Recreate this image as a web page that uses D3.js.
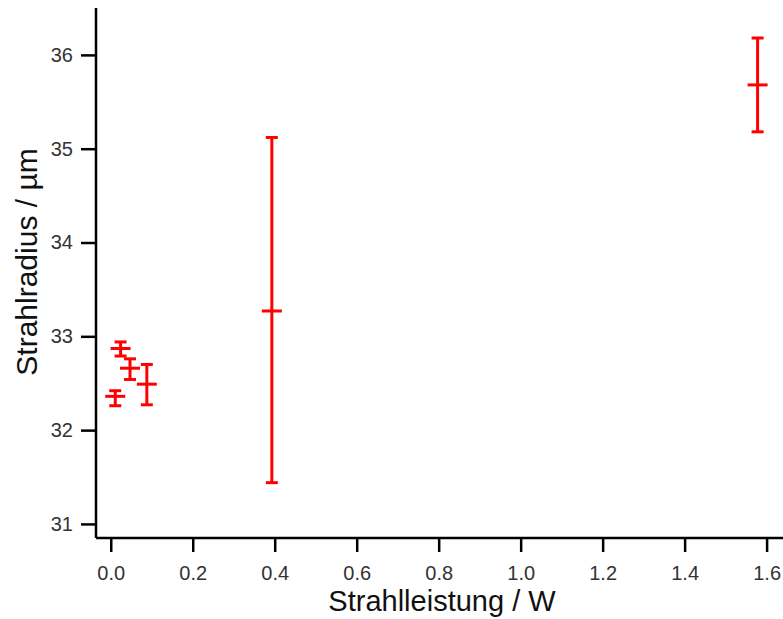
<!DOCTYPE html>
<html>
<head>
<meta charset="utf-8">
<script src="https://cdn.jsdelivr.net/npm/d3@7"></script>
<style>
  body { margin: 0; background: #fff; }
  text { font-family: "Liberation Sans", Arial, sans-serif; }
</style>
</head>
<body>
<svg width="783" height="619"></svg>
<script>
var svg = d3.select("svg"),
    width = +svg.attr("width"),
    height = +svg.attr("height");

// data
var power = [0.024, 0.047, 0.088, 0.011, 0.393, 1.578];
var radius = [32.87, 32.66, 32.49, 32.36, 33.27, 35.68];
var errLow = [32.79, 32.54, 32.27, 32.26, 31.44, 35.18];
var errHigh = [32.94, 32.76, 32.70, 32.42, 35.12, 36.18];

var xTicks = [0.0, 0.2, 0.4, 0.6, 0.8, 1.0, 1.2, 1.4, 1.6];
var yTicks = [31, 32, 33, 34, 35, 36];

var plotLeft = 96, plotRight = 783, plotTop = 8, plotBottom = 538;

var x = d3.scaleLinear()
    .domain([-0.036, 1.64])
    .range([plotLeft, plotRight]);

var y = d3.scaleLinear()
    .domain([30.85, 36.5])
    .range([plotBottom, plotTop]);

var xAxis = svg.append("g")
    .attr("transform", "translate(0," + plotBottom + ")")
    .call(d3.axisBottom(x).tickValues(xTicks).tickFormat(d3.format(".1f"))
        .tickSize(14).tickPadding(14).tickSizeOuter(0));

var yAxis = svg.append("g")
    .attr("transform", "translate(" + plotLeft + ",0)")
    .call(d3.axisLeft(y).tickValues(yTicks).tickFormat(d3.format("d"))
        .tickSize(15).tickPadding(8).tickSizeOuter(0));

[xAxis, yAxis].forEach(g => {
    g.select(".domain").attr("stroke", "#000").attr("stroke-width", 2.5);
    g.selectAll(".tick line").attr("stroke", "#000").attr("stroke-width", 2.5);
    g.selectAll(".tick text")
        .attr("fill", "#333")
        .style("font-size", "20px")
        .style("font-family", "Liberation Sans, Arial, sans-serif");
});

// axis lines meet at the corner
xAxis.select(".domain").attr("d", "M" + plotLeft + ",0H" + plotRight);
yAxis.select(".domain").attr("d", "M0," + plotTop + "V" + plotBottom);

var idx = d3.range(power.length);
var pts = svg.append("g").attr("stroke", "#ff0000").attr("stroke-width", 3).attr("fill", "none");

pts.selectAll(".bar")
    .data(idx)
    .enter().append("line")
    .attr("x1", i => x(power[i]))
    .attr("x2", i => x(power[i]))
    .attr("y1", i => y(errLow[i]))
    .attr("y2", i => y(errHigh[i]));

pts.selectAll(".capLow")
    .data(idx)
    .enter().append("line")
    .attr("x1", i => x(power[i]) - 6)
    .attr("x2", i => x(power[i]) + 6)
    .attr("y1", i => y(errLow[i]))
    .attr("y2", i => y(errLow[i]));

pts.selectAll(".capHigh")
    .data(idx)
    .enter().append("line")
    .attr("x1", i => x(power[i]) - 6)
    .attr("x2", i => x(power[i]) + 6)
    .attr("y1", i => y(errHigh[i]))
    .attr("y2", i => y(errHigh[i]));

pts.selectAll(".mid")
    .data(idx)
    .enter().append("line")
    .attr("x1", i => x(power[i]) - 10)
    .attr("x2", i => x(power[i]) + 10)
    .attr("y1", i => y(radius[i]))
    .attr("y2", i => y(radius[i]));

svg.append("text")
    .attr("x", 442)
    .attr("y", 611)
    .attr("text-anchor", "middle")
    .style("font-size", "29px")
    .attr("fill", "#111")
    .text("Strahlleistung / W");

svg.append("text")
    .attr("transform", "translate(37,262) rotate(-90)")
    .attr("text-anchor", "middle")
    .style("font-size", "30px")
    .attr("fill", "#111")
    .text("Strahlradius / µm");
</script>
</body>
</html>
